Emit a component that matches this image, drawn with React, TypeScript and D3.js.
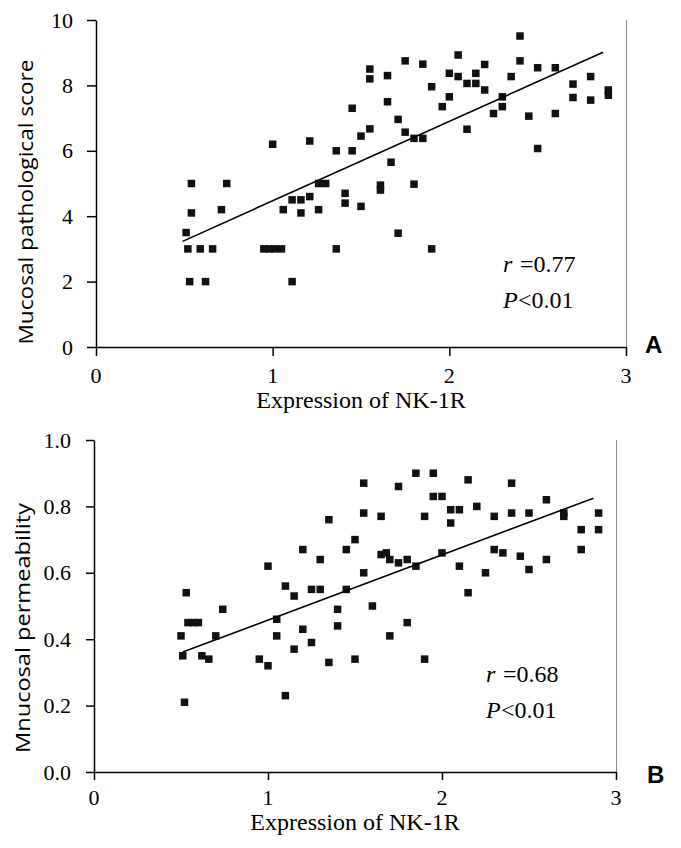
import * as d3 from 'd3';
import { useRef, useEffect } from 'react';

// shared x axis
const xTicks = [0, 1, 2, 3];

// panel A: mucosal pathological score vs NK-1R expression
const scoreTicks = [0, 2, 4, 6, 8, 10];
const scoreX = [
  0.51, 0.52, 0.53, 0.54, 0.54, 0.59, 0.62, 0.66, 0.71, 0.74,
  0.95, 0.98, 1.01, 1.05, 1.0, 1.06, 1.11, 1.11, 1.16, 1.16,
  1.21, 1.21, 1.26, 1.26, 1.3, 1.36, 1.36, 1.41, 1.41, 1.45,
  1.45, 1.5, 1.5, 1.55, 1.55, 1.55, 1.61, 1.61, 1.65, 1.65,
  1.67, 1.71, 1.71, 1.75, 1.75, 1.8, 1.8, 1.85, 1.85, 1.9,
  1.9, 1.96, 2.0, 2.0, 2.05, 2.05, 2.1, 2.1, 2.15, 2.15,
  2.2, 2.2, 2.25, 2.3, 2.3, 2.35, 2.4, 2.4, 2.45, 2.5,
  2.5, 2.6, 2.6, 2.7, 2.7, 2.8, 2.8, 2.9, 2.9,
];
const scoreY = [
  3.5, 3.0, 2.0, 5.0, 4.1, 3.0, 2.0, 3.0, 4.2, 5.0,
  3.0, 3.0, 3.0, 3.0, 6.2, 4.2, 4.5, 2.0, 4.5, 4.1,
  4.6, 6.3, 4.2, 5.0, 5.0, 6.0, 3.0, 4.7, 4.4, 7.3,
  6.0, 4.3, 6.45, 8.5, 8.2, 6.67, 4.95, 4.8, 8.3, 7.5,
  5.65, 6.96, 3.48, 8.75, 6.57, 6.38, 4.98, 6.38, 8.65, 7.96,
  3.0, 7.35, 8.37, 7.65, 8.93, 8.27, 8.06, 6.66, 8.37, 8.06,
  8.64, 7.86, 7.14, 7.65, 7.35, 8.27, 9.51, 8.75, 7.06, 8.54,
  6.07, 8.54, 7.14, 8.04, 7.63, 8.27, 7.55, 7.86, 7.7,
];
const scoreFitX = [0.49, 2.87];
const scoreFitCoef = [2.04, 2.43]; // intercept, slope

// panel B: mucosal permeability vs NK-1R expression
const permTicks = [0, 0.2, 0.4, 0.6, 0.8, 1.0];
const permX = [
  0.5, 0.51, 0.52, 0.53, 0.54, 0.57, 0.6, 0.62, 0.66, 0.7,
  0.74, 0.95, 1.0, 1.0, 1.05, 1.05, 1.1, 1.1, 1.15, 1.15,
  1.2, 1.2, 1.25, 1.25, 1.3, 1.3, 1.35, 1.35, 1.4, 1.4,
  1.45, 1.45, 1.5, 1.5, 1.55, 1.55, 1.55, 1.6, 1.65, 1.65,
  1.68, 1.7, 1.7, 1.75, 1.75, 1.8, 1.8, 1.85, 1.85, 1.9,
  1.9, 1.95, 1.95, 2.0, 2.0, 2.05, 2.05, 2.1, 2.1, 2.15,
  2.15, 2.2, 2.25, 2.3, 2.3, 2.35, 2.4, 2.4, 2.45, 2.5,
  2.5, 2.6, 2.6, 2.7, 2.7, 2.8, 2.8, 2.9, 2.9,
];
const permY = [
  0.41, 0.35, 0.21, 0.54, 0.45, 0.45, 0.45, 0.35, 0.34, 0.41,
  0.49, 0.34, 0.32, 0.62, 0.46, 0.41, 0.56, 0.23, 0.37, 0.53,
  0.43, 0.67, 0.39, 0.55, 0.55, 0.64, 0.76, 0.33, 0.49, 0.44,
  0.55, 0.67, 0.7, 0.34, 0.87, 0.78, 0.6, 0.5, 0.77, 0.655,
  0.66, 0.64, 0.41, 0.86, 0.63, 0.64, 0.45, 0.9, 0.62, 0.77,
  0.34, 0.9, 0.83, 0.83, 0.66, 0.79, 0.75, 0.79, 0.62, 0.88,
  0.54, 0.8, 0.6, 0.77, 0.67, 0.66, 0.87, 0.78, 0.65, 0.78,
  0.61, 0.82, 0.64, 0.78, 0.77, 0.73, 0.67, 0.78, 0.73,
];
const permFitX = [0.51, 2.87];
const permFitCoef = [0.261, 0.1964];

// single family names only: lists were not picked up by the renderer
const serif = 'Liberation Serif';
const sans = 'Open Sans';

type PanelProps = {
  xs: number[];
  ys: number[];
  fitX: number[];
  fitCoef: number[];
  yTicks: number[];
  yFmt: string;
  yMax: number;
  xRange: [number, number];
  yRange: [number, number];
  tick: number;
  pad: number;
  xLabDy: number;
  xTitleY: number;
  yTitle: string;
  yTitleX: number;
  yTitleMid: number;
  yTitleLen: number;
  rText: string;
  annX: number;
  annY: number;
  letter: string;
  letterX: number;
  letterY: number;
};

const Panel = (p: PanelProps) => {
  const xAxisRef = useRef<SVGGElement>(null);
  const yAxisRef = useRef<SVGGElement>(null);

  const x = d3.scaleLinear().domain([0, 3]).range(p.xRange);
  const y = d3.scaleLinear().domain([0, p.yMax]).range(p.yRange);
  const yFormat = d3.format(p.yFmt);

  // axis lines and ticks from d3, labels drawn as JSX text below
  useEffect(() => {
    const gx = d3.select(xAxisRef.current as SVGGElement);
    gx.selectAll('*').remove();
    gx.call(d3.axisBottom(x).tickValues(xTicks).tickSize(p.tick).tickSizeOuter(0).tickFormat(() => '') as any);
    gx.select('.domain').attr('stroke', '#000').attr('stroke-width', 1.5);
    gx.selectAll('.tick line').attr('stroke', '#000').attr('stroke-width', 1.5);

    const gy = d3.select(yAxisRef.current as SVGGElement);
    gy.selectAll('*').remove();
    gy.call(d3.axisLeft(y).tickValues(p.yTicks).tickSize(p.tick).tickSizeOuter(0).tickFormat(() => '') as any);
    gy.select('.domain').attr('stroke', '#000').attr('stroke-width', 1.5);
    gy.selectAll('.tick line').attr('stroke', '#000').attr('stroke-width', 1.5);
  }, []);

  const fitLine = d3
    .line<number>()
    .x((d) => x(d))
    .y((d) => y(p.fitCoef[0] + p.fitCoef[1] * d));

  const size = 7.5;
  const x0 = p.xRange[0];
  const yBottom = p.yRange[0];

  return (
    <g>
      {/* gray frame line on the right */}
      <line
        x1={p.xRange[1] + 0.5}
        x2={p.xRange[1] + 0.5}
        y1={p.yRange[1]}
        y2={yBottom}
        stroke="#8c8c8c"
        strokeWidth={1}
      />
      <g ref={xAxisRef} transform={`translate(0,${yBottom})`} />
      <g ref={yAxisRef} transform={`translate(${x0},0)`} />

      {xTicks.map((t) => (
        <text
          key={'x' + t}
          x={x(t)}
          y={yBottom + p.xLabDy}
          textAnchor="middle"
          fontFamily={serif}
          style={{ fontFamily: serif, fontSize: 22 }}
          fill="#000"
        >
          {String(t)}
        </text>
      ))}
      {p.yTicks.map((t) => (
        <text
          key={'y' + t}
          x={x0 - p.tick - p.pad}
          y={y(t) + 7.5}
          textAnchor="end"
          fontFamily={serif}
          style={{ fontFamily: serif, fontSize: 22 }}
          fill="#000"
        >
          {yFormat(t)}
        </text>
      ))}

      {p.xs.map((v, i) => (
        <rect
          key={i}
          x={x(v) - size / 2}
          y={y(p.ys[i]) - size / 2}
          width={size}
          height={size}
          fill="#111"
        />
      ))}

      <path d={fitLine(p.fitX) || ''} fill="none" stroke="#000" strokeWidth={1.6} />

      <text
        x={(p.xRange[0] + p.xRange[1]) / 2}
        y={p.xTitleY}
        textAnchor="middle"
        fontFamily={serif}
        style={{ fontFamily: serif, fontSize: 24 }}
        fill="#000"
      >
        Expression of NK-1R
      </text>

      <text
        transform={`translate(${p.yTitleX},${p.yTitleMid}) rotate(-90)`}
        textAnchor="middle"
        fontFamily={sans}
        style={{ fontFamily: sans, fontSize: 20 }}
        textLength={p.yTitleLen}
        lengthAdjust="spacingAndGlyphs"
        fill="#000"
      >
        {p.yTitle}
      </text>

      {/* r and P annotations, italic letter and roman value as separate texts */}
      <text
        x={p.annX}
        y={p.annY}
        textAnchor="start"
        fontFamily={serif}
        style={{ fontFamily: serif, fontSize: 24, fontStyle: 'italic' }}
        fill="#000"
      >
        r
      </text>
      <text
        x={p.annX + 17}
        y={p.annY}
        textAnchor="start"
        fontFamily={serif}
        style={{ fontFamily: serif, fontSize: 24 }}
        fill="#000"
      >
        {'=' + p.rText}
      </text>
      <text
        x={p.annX}
        y={p.annY + 36}
        textAnchor="start"
        fontFamily={serif}
        style={{ fontFamily: serif, fontSize: 24, fontStyle: 'italic' }}
        fill="#000"
      >
        P
      </text>
      <text
        x={p.annX + 15}
        y={p.annY + 36}
        textAnchor="start"
        fontFamily={serif}
        style={{ fontFamily: serif, fontSize: 24 }}
        fill="#000"
      >
        {'<0.01'}
      </text>

      <text
        x={p.letterX}
        y={p.letterY}
        fontFamily="Liberation Sans"
        style={{ fontFamily: 'Liberation Sans', fontWeight: 'bold', fontSize: 24 }}
        fill="#000"
      >
        {p.letter}
      </text>
    </g>
  );
};

export default function App() {
  return (
    <svg
      width={681}
      height={848}
      style={{ position: 'absolute', left: 0, top: 0, background: '#fff' }}
    >
      <rect width={681} height={848} fill="#fff" />
      <Panel
        xs={scoreX}
        ys={scoreY}
        fitX={scoreFitX}
        fitCoef={scoreFitCoef}
        yTicks={scoreTicks}
        yFmt="d"
        yMax={10}
        xRange={[96, 626]}
        yRange={[347, 20]}
        tick={9}
        pad={14}
        xLabDy={36}
        xTitleY={408}
        yTitle="Mucosal pathological score"
        yTitleX={33}
        yTitleMid={202}
        yTitleLen={285}
        rText="0.77"
        annX={503}
        annY={272}
        letter="A"
        letterX={645}
        letterY={353}
      />
      <Panel
        xs={permX}
        ys={permY}
        fitX={permFitX}
        fitCoef={permFitCoef}
        yTicks={permTicks}
        yFmt=".1f"
        yMax={1}
        xRange={[94, 616]}
        yRange={[772, 440]}
        tick={8}
        pad={15}
        xLabDy={33}
        xTitleY={830}
        yTitle="Mnucosal permeability"
        yTitleX={30}
        yTitleMid={628}
        yTitleLen={250}
        rText="0.68"
        annX={486}
        annY={682}
        letter="B"
        letterX={647}
        letterY={783}
      />
    </svg>
  );
}
